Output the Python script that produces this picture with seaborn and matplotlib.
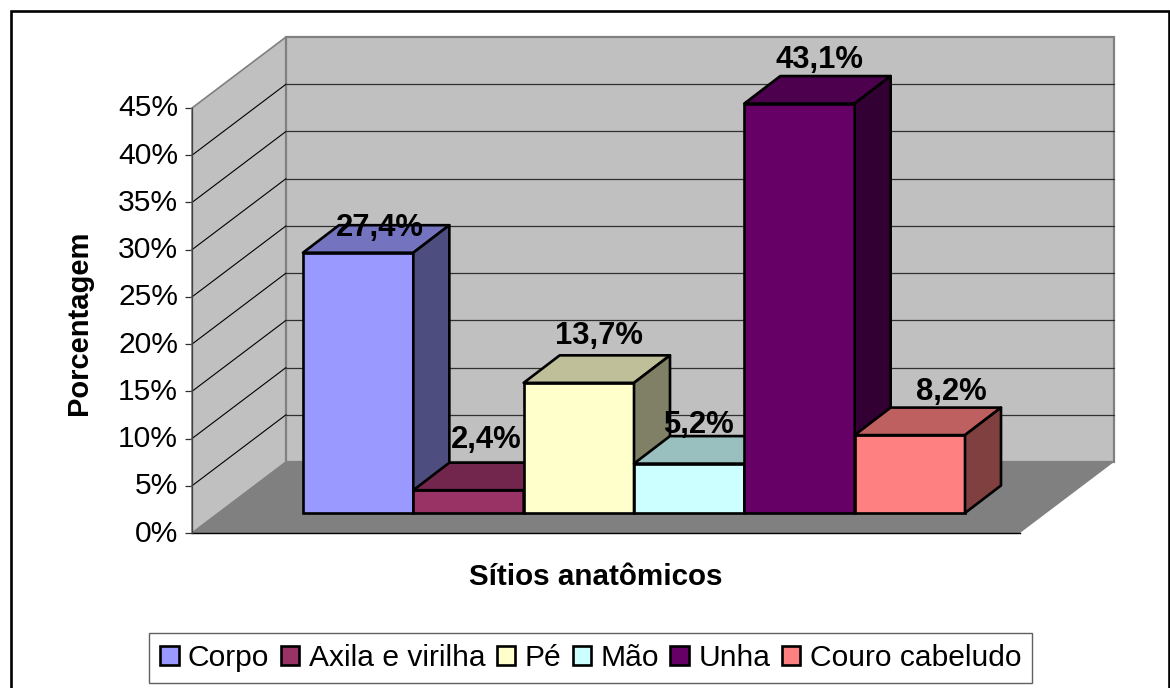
import matplotlib
matplotlib.use("Agg")
import matplotlib.pyplot as plt
import pandas as pd
import seaborn as sns
from matplotlib.patches import Polygon, Rectangle
from matplotlib.transforms import ScaledTranslation

categories = ["Corpo", "Axila e virilha", "Pé", "Mão", "Unha", "Couro cabeludo"]
values = [27.4, 2.4, 13.7, 5.2, 43.1, 8.2]
value_labels = ["27,4%", "2,4%", "13,7%", "5,2%", "43,1%", "8,2%"]
yticks = [0, 5, 10, 15, 20, 25, 30, 35, 40, 45]
colors = ["#9999FF", "#993366", "#FFFFCC", "#CCFFFF", "#660066", "#FF8080"]
tops = ["#7373BF", "#73264D", "#BFBF99", "#99BFBF", "#4D004D", "#BF6060"]
sides = ["#4D4D80", "#4D1A33", "#808066", "#668080", "#330033", "#804040"]

W, H = 1170, 688
FS = 21.6
BAR_LW = 1.9

sns.set_theme(style="white")
plt.rcParams["font.family"] = ["Liberation Sans", "DejaVu Sans"]


def box(x0, x1, y_bottom, y_top):
    # pixel box (y from top of the image) to figure fractions
    return [x0 / W, 1 - y_bottom / H, (x1 - x0) / W, (y_bottom - y_top) / H]


fig = plt.figure(figsize=(W / 100, H / 100), dpi=100)
fig.patches.append(Rectangle((10.5 / W, -0.1), 1158.5 / W, 1.1 - 11 / H, transform=fig.transFigure,
                             fill=False, edgecolor="black", linewidth=1.9))

# walls and floor, in the axis own scale
ax_wall = fig.add_axes(box(192, 1020, 533, 108))
ax_wall.set_xlim(0, 1)
ax_wall.set_ylim(0, 45)
ax_wall.patch.set_visible(False)
dx = 94 / 828
dy = 71 / (425 / 45)
ax_wall.add_patch(Polygon([(0, 0), (dx, dy), (dx, 45 + dy), (0, 45)], closed=True, facecolor="#C0C0C0",
                          edgecolor="#808080", linewidth=1.2, clip_on=False, zorder=1))
ax_wall.add_patch(Polygon([(dx, dy), (1 + dx, dy), (1 + dx, 45 + dy), (dx, 45 + dy)], closed=True,
                          facecolor="#C0C0C0", edgecolor="#808080", linewidth=1.6, clip_on=False, zorder=1))
ax_wall.add_patch(Polygon([(0, 0), (1, 0), (1 + dx, dy), (dx, dy)], closed=True, facecolor="#808080",
                          edgecolor="none", clip_on=False, zorder=1.5))
for t in yticks[1:-1]:
    ax_wall.plot([0, dx], [t, t + dy], color="black", lw=0.8, clip_on=False, zorder=2)
    ax_wall.plot([dx, 1 + dx], [t + dy, t + dy], color="#303030", lw=0.9, clip_on=False, zorder=2)

ax_wall.set_yticks(yticks)
ax_wall.set_yticklabels([f"{t}%" for t in yticks], fontsize=FS, color="black")
ax_wall.set_xticks([])
ax_wall.tick_params(axis="y", left=True, length=5, width=0.9, color="#303030", pad=5)
for lab in ax_wall.get_yticklabels():
    lab.set_transform(lab.get_transform() + ScaledTranslation(0, 2.5 / 100, fig.dpi_scale_trans))
sns.despine(ax=ax_wall, top=True, right=True)
ax_wall.spines["left"].set_color("#404040")
ax_wall.spines["left"].set_linewidth(0.9)
ax_wall.spines["left"].set_zorder(3)
ax_wall.spines["bottom"].set_color("black")
ax_wall.spines["bottom"].set_linewidth(1.0)
ax_wall.set_xlabel("Sítios anatômicos", fontsize=21.3, fontweight="bold", color="black")
ax_wall.xaxis.set_label_coords((596 - 192) / 828, -(577 - 533) / 425, transform=ax_wall.transAxes)
ax_wall.xaxis.label.set_verticalalignment("center")
ax_wall.set_ylabel("Porcentagem", fontsize=21, fontweight="bold", color="black")
ax_wall.yaxis.set_label_coords(-(192 - 79) / 828, (533 - 323) / 425, transform=ax_wall.transAxes)
ax_wall.yaxis.label.set_verticalalignment("center")

# bars on their own axes, sitting further forward on the floor
ax = fig.add_axes(box(303, 965, 513, 513 - 9.5 * 45))
ax.patch.set_visible(False)
df = pd.DataFrame({"sitio": categories, "valor": values})
sns.barplot(data=df, x="sitio", y="valor", hue="sitio", order=categories, hue_order=categories,
            palette=colors, saturation=1, dodge=False, width=1, edgecolor="black", linewidth=BAR_LW,
            legend=True, ax=ax)
ax.set_xlim(-0.5, 5.5)
ax.set_ylim(0, 45)
ax.set_axis_off()

depth_x = 36 / (662 / 6)
depth_y = 27.5 / 9.5
label_dx = [22, 18, 20, 9, 20, 42]
label_dy = [25, 50, 47, 39, 44, 43]

for i, cont in enumerate(ax.containers):
    bar = cont.patches[0]
    x0 = bar.get_x()
    x1 = x0 + bar.get_width()
    h = bar.get_height()
    z = 3 + i
    bar.set_zorder(z)
    bar.set_clip_on(False)
    ax.add_patch(Polygon([(x0, h), (x1, h), (x1 + depth_x, h + depth_y), (x0 + depth_x, h + depth_y)], closed=True,
                         facecolor=tops[i], edgecolor="black", linewidth=BAR_LW, joinstyle="round",
                         clip_on=False, zorder=z))
    ax.add_patch(Polygon([(x1, 0), (x1 + depth_x, depth_y), (x1 + depth_x, h + depth_y), (x1, h)], closed=True,
                         facecolor=sides[i], edgecolor="black", linewidth=BAR_LW, joinstyle="round",
                         clip_on=False, zorder=z))
    ax.annotate(value_labels[i], (x0 + 0.5, h), xytext=(label_dx[i], label_dy[i]), textcoords="offset pixels",
                ha="center", va="center", fontsize=22.3, fontweight="bold", color="black", zorder=20,
                annotation_clip=False)

sns.move_legend(ax, "center", bbox_to_anchor=(590.5 / W, 1 - 658 / H), bbox_transform=fig.transFigure,
                ncol=6, title=None, frameon=True, fontsize=FS, labelcolor="black", fancybox=False,
                edgecolor="#606060", framealpha=1, handlelength=0.62, handleheight=0.62, handletextpad=0.31,
                columnspacing=0.38, borderpad=0.38, borderaxespad=0)

fig.savefig("out.png", dpi=100)
